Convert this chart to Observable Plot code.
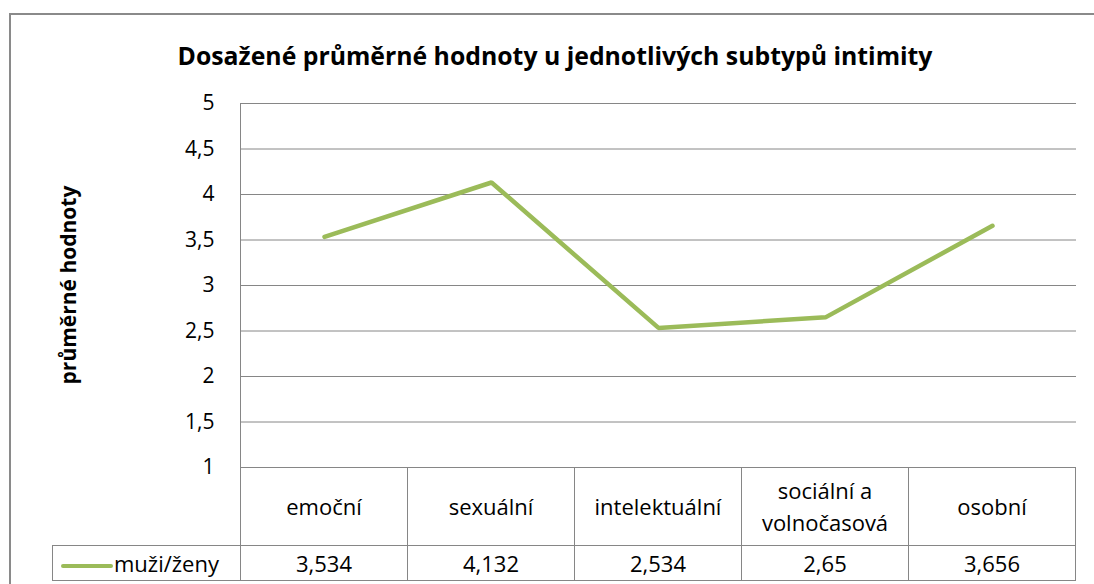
<!DOCTYPE html>
<html>
<head>
<meta charset="utf-8">
<script src="https://cdn.jsdelivr.net/npm/d3@7"></script>
<script src="https://cdn.jsdelivr.net/npm/@observablehq/plot@0.6"></script>
<style>
  html, body { margin: 0; padding: 0; background: #fff; }
  body { width: 1094px; height: 584px; overflow: hidden; font-family: "Open Sans", sans-serif; color: #000; }
  #wrap { position: relative; width: 1094px; height: 584px; }
  #outer { position: absolute; left: 9px; top: 13px; width: 1100px; height: 600px; border-top: 2px solid #8a8a8a; border-left: 2px solid #8a8a8a; box-sizing: border-box; }
  #title { position: absolute; left: 0; width: 1110px; top: 55px; transform: translateY(-50%); text-align: center; font-weight: bold; font-size: 24.8px; }
  #ylabel { position: absolute; left: 68px; top: 285px; transform: translate(-50%, -50%) rotate(-90deg); font-weight: bold; font-size: 21px; white-space: nowrap; }
  #chart { position: absolute; left: 0; top: 90px; }
  #table { position: absolute; left: 52px; top: 467px; border-collapse: collapse; font-size: 22px; }
  #table td { border: 1px solid #868686; text-align: center; padding: 0; width: 166px; }
  #table tr.cats td { height: 77px; line-height: 1.42; }
  #table tr.vals td { height: 34px; line-height: 1.2; }
  #table td.blank { border: none; border-right: 1px solid #868686; width: 187px; }
  #table td.legend { width: 187px; text-align: left; }
  .swatch { display: inline-block; width: 52px; height: 4px; background: #9BBB59; vertical-align: middle; margin-left: 8px; margin-right: 1px; border-radius: 2px; }
</style>
</head>
<body>
<div id="wrap">
  <div id="outer"></div>
  <div id="title"></div>
  <div id="ylabel"></div>
  <div id="chart"></div>
  <table id="table"></table>
</div>
<script>
const titleText = "Dosažené průměrné hodnoty u jednotlivých subtypů intimity";
const yAxisTitle = "průměrné hodnoty";
const categories = ["emoční", "sexuální", "intelektuální", "sociální a volnočasová", "osobní"];
const categoryLabels = [["emoční"], ["sexuální"], ["intelektuální"], ["sociální a", "volnočasová"], ["osobní"]];
const seriesName = "muži/ženy";
const values = [3.534, 4.132, 2.534, 2.65, 3.656];
const valueLabels = ["3,534", "4,132", "2,534", "2,65", "3,656"];
const yTicks = [1, 1.5, 2, 2.5, 3, 3.5, 4, 4.5, 5];

const data = categories.map((c, i) => ({category: c, value: values[i]}));
const fmt = d => String(d).replace(".", ",");

document.getElementById("title").textContent = titleText;
document.getElementById("ylabel").textContent = yAxisTitle;

const chart = Plot.plot({
  width: 1094,
  height: 380,
  marginLeft: 240,
  marginRight: 18,
  marginTop: 13,
  marginBottom: 3,
  style: {fontFamily: "'Open Sans', sans-serif", fontSize: "21px", color: "#000", background: "transparent", overflow: "visible"},
  x: {type: "point", domain: categories, padding: 0.5, axis: null},
  y: {domain: [1, 5], axis: null},
  marks: [
    Plot.gridY(yTicks, {stroke: "#868686", strokeOpacity: 1, strokeWidth: 1}),
    Plot.frame({anchor: "left", stroke: "#868686", strokeWidth: 1}),
    Plot.axisY(yTicks, {tickSize: 0, tickPadding: 26, tickFormat: fmt, fontSize: 21, fill: "#000", label: null}),
    Plot.line(data, {x: "category", y: "value", stroke: "#9BBB59", strokeWidth: 4.5, strokeLinejoin: "miter", strokeLinecap: "round"})
  ]
});
document.getElementById("chart").appendChild(chart);

const table = document.getElementById("table");
const r1 = document.createElement("tr");
r1.className = "cats";
const blank = document.createElement("td");
blank.className = "blank";
r1.appendChild(blank);
categoryLabels.forEach(lines => {
  const td = document.createElement("td");
  td.innerHTML = lines.join("<br>");
  r1.appendChild(td);
});
table.appendChild(r1);
const r2 = document.createElement("tr");
r2.className = "vals";
const leg = document.createElement("td");
leg.className = "legend";
const sw = document.createElement("span");
sw.className = "swatch";
leg.appendChild(sw);
leg.appendChild(document.createTextNode(seriesName));
r2.appendChild(leg);
valueLabels.forEach(v => {
  const td = document.createElement("td");
  td.textContent = v;
  r2.appendChild(td);
});
table.appendChild(r2);
</script>
</body>
</html>
